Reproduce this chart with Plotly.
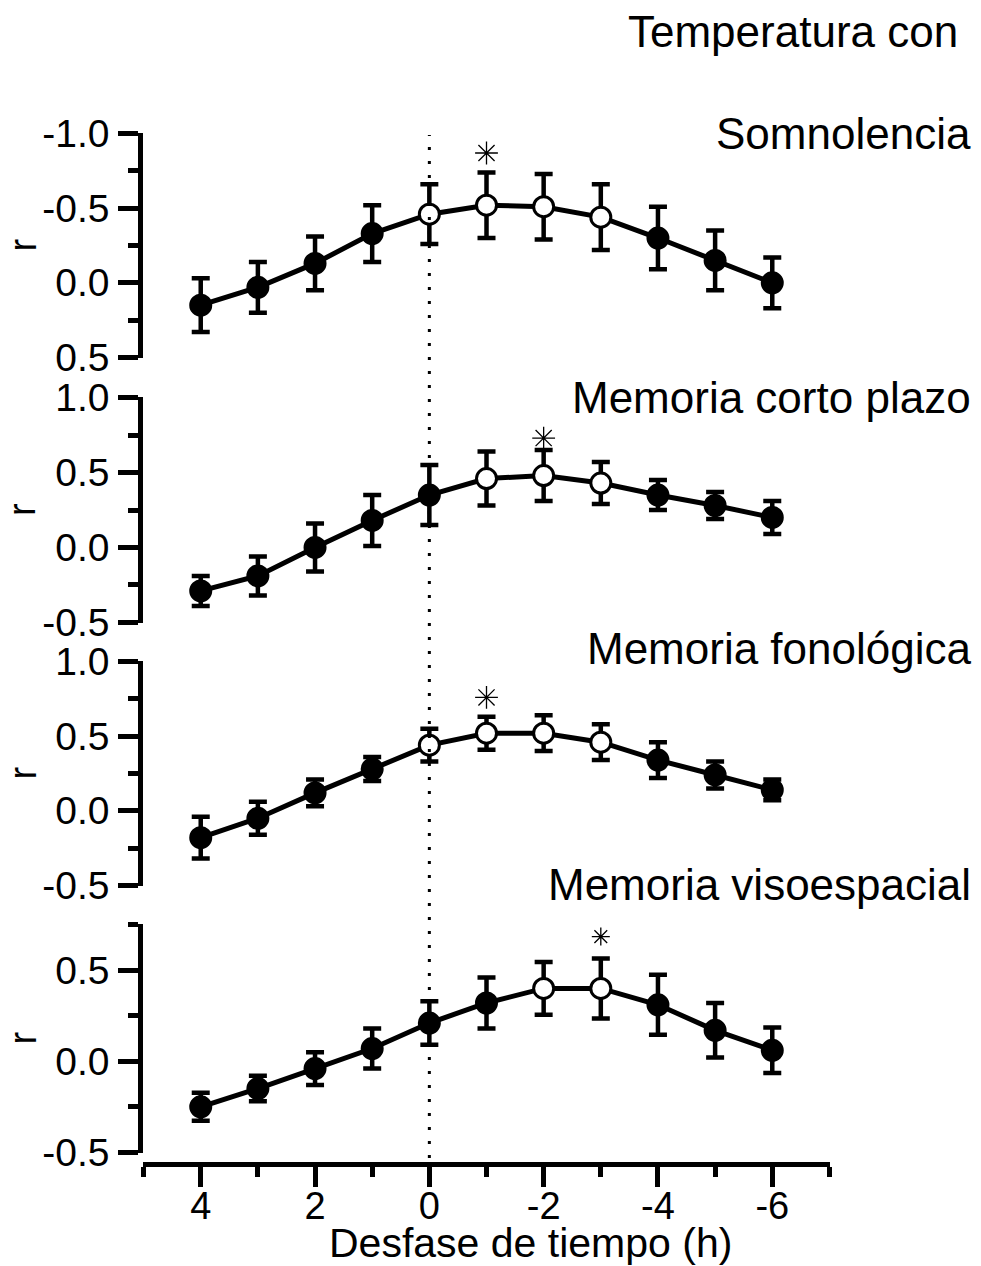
import plotly.graph_objects as go

# ---------------- data ----------------
lags = [4, 3, 2, 1, 0, -1, -2, -3, -4, -5, -6]

somn_r = [0.15, 0.03, -0.13, -0.33, -0.46, -0.52, -0.51, -0.44, -0.30, -0.15, 0.00]
somn_err = [0.18, 0.17, 0.18, 0.19, 0.20, 0.22, 0.22, 0.22, 0.21, 0.20, 0.17]
somn_open = [0, 0, 0, 0, 1, 1, 1, 1, 0, 0, 0]
somn_star = (-1, -0.87)

corto_r = [-0.29, -0.19, 0.00, 0.18, 0.35, 0.46, 0.48, 0.43, 0.35, 0.28, 0.20]
corto_err = [0.10, 0.13, 0.16, 0.17, 0.20, 0.18, 0.17, 0.14, 0.10, 0.09, 0.11]
corto_open = [0, 0, 0, 0, 0, 1, 1, 1, 0, 0, 0]
corto_star = (-2, 0.73)

fono_r = [-0.18, -0.05, 0.12, 0.28, 0.44, 0.52, 0.52, 0.46, 0.34, 0.24, 0.14]
fono_err = [0.14, 0.11, 0.09, 0.08, 0.11, 0.11, 0.12, 0.12, 0.12, 0.09, 0.07]
fono_open = [0, 0, 0, 0, 1, 1, 1, 1, 0, 0, 0]
fono_star = (-1, 0.76)

viso_r = [-0.25, -0.15, -0.04, 0.07, 0.21, 0.32, 0.40, 0.40, 0.31, 0.17, 0.06]
viso_err = [0.077, 0.07, 0.09, 0.11, 0.12, 0.14, 0.145, 0.165, 0.165, 0.15, 0.125]
viso_open = [0, 0, 0, 0, 0, 0, 1, 1, 0, 0, 0]
viso_star = (-3, 0.685)

# tick labels
y_ticks_1 = [-1.0, -0.5, 0.0, 0.5]
y_ticks_1_text = ["-1.0", "-0.5", "0.0", "0.5"]
y_ticks_2 = [-0.5, 0.0, 0.5, 1.0]
y_ticks_2_text = ["-0.5", "0.0", "0.5", "1.0"]
y_ticks_4 = [-0.5, 0.0, 0.5]
y_ticks_4_text = ["-0.5", "0.0", "0.5"]
x_ticks = [4, 2, 0, -2, -4, -6]
x_ticks_text = ["4", "2", "0", "-2", "-4", "-6"]

titles = ["Somnolencia", "Memoria corto plazo", "Memoria fonológica", "Memoria visoespacial"]
main_title = "Temperatura con"
x_title = "Desfase de tiempo (h)"
y_title = "r"

panels = [
    (somn_r, somn_err, somn_open, somn_star, [0.5, -1.0], y_ticks_1, y_ticks_1_text),
    (corto_r, corto_err, corto_open, corto_star, [-0.5, 1.0], y_ticks_2, y_ticks_2_text),
    (fono_r, fono_err, fono_open, fono_star, [-0.5, 1.0], y_ticks_2, y_ticks_2_text),
    (viso_r, viso_err, viso_open, viso_star, [-0.5, 0.75], y_ticks_4, y_ticks_4_text),
]

# ---------------- layout geometry (pixels) ----------------
W, H = 981, 1266
panel_px = [(133, 358), (397, 623), (661, 886), (924, 1153)]
x_left, x_right = 143, 830
xaxis_line_px = 1164
title_px = [133, 398, 648, 884]
star_sizes = [19, 19, 19, 15]
x_range = [5.01, -7.01]


def py(p):
    return 1 - p / H


FONT = "Liberation Sans, Arial, sans-serif"

fig = go.Figure()
for i, (r, err, op, star, rng, tv, tt) in enumerate(panels):
    n = i + 1
    xa = "x" if n == 1 else f"x{n}"
    ya = "y" if n == 1 else f"y{n}"
    colors = ["white" if o else "black" for o in op]
    fig.add_trace(go.Scatter(
        x=lags, y=r, xaxis=xa, yaxis=ya, mode="lines+markers",
        line=dict(color="black", width=5),
        marker=dict(size=20, color=colors, line=dict(color="black", width=3)),
        error_y=dict(type="data", array=err, visible=True, color="black",
                     thickness=4.5, width=9),
        showlegend=False, hoverinfo="skip"))
    fig.add_trace(go.Scatter(
        x=[star[0]], y=[star[1]], xaxis=xa, yaxis=ya, mode="markers",
        marker=dict(symbol="asterisk-open", size=star_sizes[i], color="black",
                    line=dict(color="black", width=1.3)),
        showlegend=False, hoverinfo="skip"))

layout = dict(
    width=W, height=H,
    margin=dict(l=0, r=0, t=0, b=0, pad=0, autoexpand=False),
    paper_bgcolor="white", plot_bgcolor="white",
    font=dict(family=FONT, color="black", size=38),
)

for i, (r, err, op, star, rng, tv, tt) in enumerate(panels):
    n = i + 1
    top, bot = panel_px[i]
    ykey = "yaxis" if n == 1 else f"yaxis{n}"
    xkey = "xaxis" if n == 1 else f"xaxis{n}"
    lo, hi = rng
    eps = 0.004 * (1 if hi > lo else -1)
    layout[ykey] = dict(
        domain=[py(bot), py(top)], anchor="x" if n == 1 else f"x{n}",
        range=[lo - eps, hi + eps], showgrid=False, zeroline=False,
        showline=True, linecolor="black", linewidth=4.5,
        ticks="outside", ticklen=20, tickwidth=4.5, tickcolor="black",
        tickmode="array", tickvals=tv, ticktext=tt,
        tickfont=dict(size=39, family=FONT),
        ticklabelstandoff=1, automargin=False,
        minor=dict(ticks="outside", ticklen=10, tickwidth=4.5, tickcolor="black",
                   dtick=0.25, tick0=0, showgrid=False),
    )
    if n < 4:
        layout[xkey] = dict(
            domain=[x_left / W, x_right / W], anchor="y" if n == 1 else f"y{n}",
            matches="x4", showline=False, showgrid=False, zeroline=False,
            showticklabels=False, ticks="", automargin=False)

# bottom axis: line + ticks
layout["xaxis4"] = dict(
    domain=[x_left / W, x_right / W], anchor="free", position=py(xaxis_line_px),
    range=x_range, showgrid=False, zeroline=False,
    showline=True, linecolor="black", linewidth=4.5,
    ticks="outside", ticklen=20, tickwidth=4.5, tickcolor="black",
    tickmode="array", tickvals=x_ticks, showticklabels=False, automargin=False,
    minor=dict(ticks="outside", ticklen=10, tickwidth=4.5, tickcolor="black",
               dtick=1, tick0=1, showgrid=False),
)
# bottom axis: tick labels only (placed closer to the line)
layout["xaxis5"] = dict(
    domain=[x_left / W, x_right / W], anchor="free", position=py(xaxis_line_px),
    overlaying="x4", range=x_range, showgrid=False, zeroline=False,
    showline=False, ticks="", tickmode="array", tickvals=x_ticks, ticktext=x_ticks_text,
    tickfont=dict(size=38, family=FONT), ticklabelstandoff=16, automargin=False,
)

annotations = []
annotations.append(dict(text=main_title, x=960 / W, y=py(32), xref="paper", yref="paper",
                        xanchor="right", yanchor="middle", showarrow=False,
                        font=dict(size=44, family=FONT)))
for i, t in enumerate(titles):
    annotations.append(dict(text=t, x=973 / W, y=py(title_px[i]), xref="paper", yref="paper",
                            xanchor="right", yanchor="middle", showarrow=False,
                            font=dict(size=44, family=FONT)))
    top, bot = panel_px[i]
    annotations.append(dict(text=y_title, x=22 / W, y=py((top + bot) / 2), xref="paper", yref="paper",
                            xanchor="center", yanchor="middle", showarrow=False, textangle=-90,
                            font=dict(size=38, family=FONT)))
annotations.append(dict(text=x_title, x=530 / W, y=py(1243), xref="paper", yref="paper",
                        xanchor="center", yanchor="middle", showarrow=False,
                        font=dict(size=41, family=FONT)))
layout["annotations"] = annotations

layout["shapes"] = [dict(type="line", xref="x4", yref="paper", x0=0, x1=0,
                         y0=py(1158), y1=py(135), layer="above",
                         line=dict(color="black", width=3, dash="3px,11px"))]

fig.update_layout(**layout)
# invisible anchor trace so the label axis is drawn
fig.add_trace(go.Scatter(x=[x_ticks[0]], y=[None], xaxis="x5", yaxis="y4",
                         mode="markers", showlegend=False, hoverinfo="skip"))
fig.write_html("out.html")
